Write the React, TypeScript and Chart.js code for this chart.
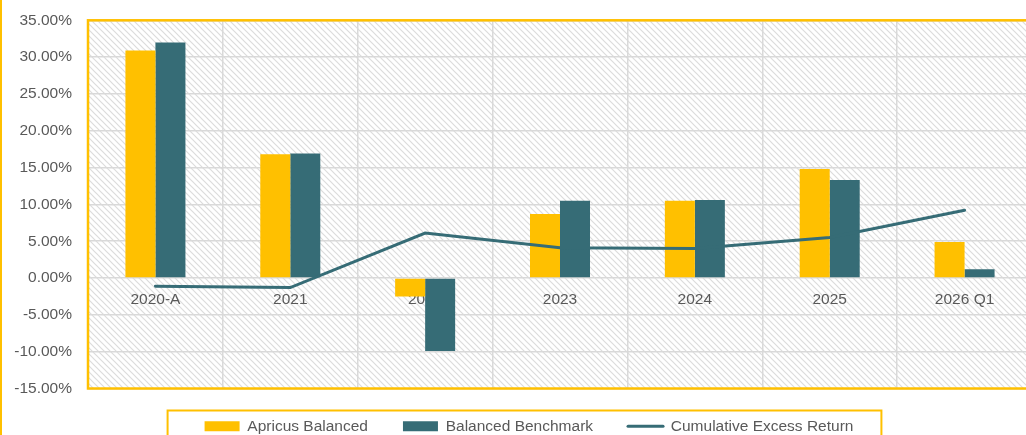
import React, { useEffect, useRef } from 'react';
import { Chart, registerables } from 'chart.js';

Chart.register(...registerables);

const categories = ['2020-A', '2021', '2022', '2023', '2024', '2025', '2026 Q1'];
const apricusBalanced = [30.9, 16.8, -2.5, 8.7, 10.5, 14.8, 4.9];
const balancedBenchmark = [32.0, 16.9, -9.9, 10.5, 10.6, 13.3, 1.2];
const cumulativeExcessReturn = [-1.1, -1.3, 6.1, 4.1, 4.0, 5.5, 9.2];
const seriesNames = ['Apricus Balanced', 'Balanced Benchmark', 'Cumulative Excess Return'];
const yMin = -15;
const yMax = 35;
const yStep = 5;

const YELLOW = '#FFC000';
const TEAL = '#366C76';
const TEXT = '#595959';
const GRID = '#D9D9D9';
const FONT = "'Liberation Sans', Arial, sans-serif";
const FONT_SIZE = 15.5;

// canvas is larger than the window and offset so the plot can run off the right edge
const SHIFT_TOP = 5;

export default function App() {
  const ref = useRef<HTMLCanvasElement>(null);

  useEffect(() => {
    document.body.style.margin = '0';
    document.body.style.overflow = 'hidden';
    const canvas = ref.current;
    if (!canvas) return;

    const tile = document.createElement('canvas');
    tile.width = 6;
    tile.height = 6;
    const t = tile.getContext('2d')!;
    t.fillStyle = '#ffffff';
    t.fillRect(0, 0, 6, 6);
    t.strokeStyle = '#DCDCDC';
    t.lineWidth = 1.2;
    t.beginPath();
    t.moveTo(-1, -1); t.lineTo(7, 7);
    t.moveTo(-1, 5); t.lineTo(1, 7);
    t.moveTo(5, -1); t.lineTo(7, 1);
    t.stroke();

    const framePlugin = {
      id: 'frame',
      afterLayout(chart: any) {
        const lg = chart.legend;
        if (lg) {
          lg.left += 9;
          lg.right += 9;
          lg.top -= 5;
          lg.bottom -= 5;
        }
      },
      beforeDraw(chart: any) {
        const { ctx, chartArea: a } = chart;
        ctx.save();
        ctx.fillStyle = '#ffffff';
        ctx.fillRect(0, 0, chart.width, chart.height);
        const pat = ctx.createPattern(tile, 'repeat');
        ctx.fillStyle = pat;
        ctx.fillRect(a.left, a.top, a.right - a.left, a.bottom - a.top);
        ctx.restore();
      },
      afterDraw(chart: any) {
        const { ctx, chartArea: a } = chart;
        ctx.save();
        ctx.strokeStyle = YELLOW;
        ctx.lineWidth = 2.5;
        ctx.strokeRect(a.left, a.top, a.right - a.left, a.bottom - a.top);
        ctx.fillStyle = YELLOW;
        ctx.fillRect(0, 0, 2, chart.height);
        const lg = chart.legend;
        if (lg && lg.legendHitBoxes && lg.legendHitBoxes.length) {
          const hb = lg.legendHitBoxes;
          const first = hb[0];
          const last = hb[hb.length - 1];
          const left = first.left - 37;
          const right = last.left + last.width + 28;
          const top = first.top - 8;
          ctx.lineWidth = 2;
          ctx.strokeRect(left, top, right - left, 200);
        }
        ctx.restore();
      },
    };

    const chart = new Chart(canvas, {
      type: 'bar',
      data: {
        labels: categories,
        datasets: [
          {
            type: 'bar',
            label: seriesNames[0],
            data: apricusBalanced,
            backgroundColor: YELLOW,
            borderWidth: 0,
            categoryPercentage: 0.445,
            barPercentage: 1,
            order: 1,
          },
          {
            type: 'bar',
            label: seriesNames[1],
            data: balancedBenchmark,
            backgroundColor: TEAL,
            borderWidth: 0,
            categoryPercentage: 0.445,
            barPercentage: 1,
            order: 1,
          },
          {
            type: 'line',
            label: seriesNames[2],
            data: cumulativeExcessReturn,
            borderColor: TEAL,
            backgroundColor: TEAL,
            borderWidth: 3,
            borderCapStyle: 'round',
            pointRadius: 0,
            pointHoverRadius: 0,
            tension: 0,
            fill: false,
            order: 0,
          },
        ],
      } as any,
      options: {
        animation: false,
        responsive: true,
        maintainAspectRatio: false,
        events: [],
        layout: { padding: { left: 8, right: 2, top: 20, bottom: 0 } },
        plugins: {
          tooltip: { enabled: false },
          title: { display: false },
          legend: {
            position: 'bottom',
            align: 'center',
            labels: {
              font: { family: FONT, size: FONT_SIZE },
              color: TEXT,
              usePointStyle: true,
              pointStyleWidth: 35,
              boxHeight: 10,
              padding: 35,
              generateLabels: (c: any) =>
                c.data.datasets.map((ds: any, i: number) => ({
                  text: ds.label,
                  fillStyle: i === 2 ? 'rgba(0,0,0,0)' : ds.backgroundColor,
                  strokeStyle: ds.borderColor || ds.backgroundColor,
                  lineWidth: i === 2 ? 3 : 0,
                  lineCap: 'round',
                  pointStyle: i === 2 ? 'line' : 'rect',
                  fontColor: TEXT,
                  hidden: false,
                  datasetIndex: i,
                })),
            },
          },
        },
        scales: {
          x: {
            type: 'category',
            position: { y: 0 } as any,
            offset: true,
            z: 1,
            grid: { display: false, drawTicks: false },
            border: { display: false },
            ticks: {
              color: TEXT,
              font: { family: FONT, size: FONT_SIZE },
              padding: 12,
              maxRotation: 0,
              autoSkip: false,
            },
          },
          xGrid: {
            type: 'category',
            axis: 'x',
            position: { y: 0 } as any,
            offset: true,
            grid: { color: GRID, lineWidth: 1.5, drawTicks: false, offset: true },
            border: { display: false },
            ticks: { display: false },
          },
          y: {
            type: 'linear',
            min: yMin,
            max: yMax,
            afterFit: (s: any) => {
              s.width = 80;
            },
            grid: { color: GRID, lineWidth: 1.5, drawTicks: false },
            border: { display: false },
            ticks: {
              stepSize: yStep,
              color: TEXT,
              font: { family: FONT, size: FONT_SIZE },
              padding: 16,
              callback: (v: any) => Number(v).toFixed(2) + '%',
            },
          },
        },
      } as any,
      plugins: [framePlugin],
    });

    return () => chart.destroy();
  }, []);

  return (
    <div style={{ width: 1026, height: 435, overflow: 'hidden', position: 'relative' }}>
      <div style={{ position: 'absolute', left: 0, top: -SHIFT_TOP, width: 1034, height: 454 }}>
        <canvas ref={ref} />
      </div>
    </div>
  );
}
